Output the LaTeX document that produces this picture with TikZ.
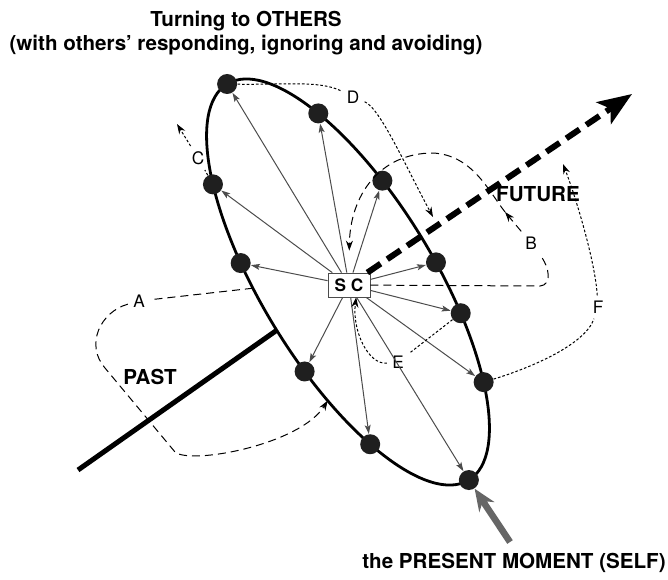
\documentclass[tikz,border=0pt]{standalone}
\usepackage{fontspec}
\setmainfont{TeX Gyre Heros}
\usetikzlibrary{arrows.meta}
\tikzset{
  dotnode/.style={circle, fill=black!88, minimum size=10pt, inner sep=0pt},
  scbox/.style={draw=black!70, fill=white, minimum width=21pt, minimum height=12pt, inner sep=0pt, font=\fontsize{8.6}{9}\selectfont\bfseries},
  spoke/.style={-{Stealth[length=4.5pt,width=3pt,inset=1pt]}, black!70, line width=0.5pt},
  futurearrow/.style={-{Stealth[length=17pt,width=13pt,inset=4pt]}, line width=3pt, dash pattern=on 8pt off 4pt},
  pastline/.style={line width=2.5pt},
  selfarrow/.style={-{Stealth[length=11pt,width=9pt]}, line width=3.3pt, black!60},
  loopline/.style={dash pattern=on 4pt off 2.5pt, line width=0.5pt},
  traceline/.style={dash pattern=on 1.3pt off 1pt, line width=0.5pt},
  arrowend/.style={-{Stealth[length=5pt,width=3.5pt]}},
  letter/.style={font=\fontsize{8.6}{9}\selectfont, inner sep=2.5pt},
  bigtext/.style={font=\fontsize{10.3}{11.8}\selectfont\bfseries}
}

\begin{document}
\begin{tikzpicture}[x=0.5pt, y=-0.5pt]
  \useasboundingbox (0,0) rectangle (668,579);
  % the circle of others, tilted
  \begin{scope}[shift={(348,282)}, rotate=-58.6]
    \draw[line width=1.4pt] (0,0) ellipse (232 and 86);
    \node[dotnode] (o1) at (180:232 and 86) {};
    \node[dotnode] (o2) at (-133.4:232 and 86) {};
    \node[dotnode] (o3) at (-107.2:232 and 86) {};
    \node[dotnode] (o4) at (-82.8:232 and 86) {};
    \node[dotnode] (o5) at (-68.4:232 and 86) {};
    \node[dotnode] (o6) at (-47.7:232 and 86) {};
    \node[dotnode] (o7) at (0:232 and 86) {};
    \node[dotnode] (o8) at (49.7:232 and 86) {};
    \node[dotnode] (o9) at (76.6:232 and 86) {};
    \node[dotnode] (o10) at (108.1:232 and 86) {};
    \node[dotnode] (o11) at (131.5:232 and 86) {};
    \coordinate (pastRoot) at (89:232 and 86);
    \coordinate (aStart) at (101:232 and 86);
    \coordinate (aEnd) at (67:232 and 86);
  \end{scope}
  \coordinate (pastEnd) at (78,470);
  \draw[pastline] (pastEnd) -- (pastRoot);
  \node[scbox] (sc) at (349,285) {S C};

  \node[bigtext, align=center, anchor=north, inner sep=0pt] (title) at (246,11) {Turning to OTHERS\\(with others’ responding, ignoring and avoiding)};
  \node[bigtext] (future) at (538,194) {FUTURE};
  \node[bigtext] (past) at (150,377) {PAST};
  \node[bigtext] (present) at (514,563) {the PRESENT MOMENT (SELF)};

  \node[letter] (lA) at (139,301) {A};
  \node[letter] (lB) at (531,243) {B};
  \node[letter] (lC) at (198,158) {C};
  \node[letter] (lD) at (353,97) {D};
  \node[letter] (lE) at (398,362) {E};
  \node[letter] (lF) at (598,307) {F};

  \draw[spoke] (sc) -- (o1);
  \draw[spoke] (sc) -- (o2);
  \draw[spoke] (sc) -- (o3);
  \draw[spoke] (sc) -- (o4);
  \draw[spoke] (sc) -- (o5);
  \draw[spoke] (sc) -- (o6);
  \draw[spoke] (sc) -- (o7);
  \draw[spoke] (sc) -- (o8);
  \draw[spoke] (sc) -- (o9);
  \draw[spoke] (sc) -- (o10);
  \draw[spoke] (sc) -- (o11);

  % loops through past and future
  \draw[loopline, arrowend] (aStart) -- (lA) .. controls (100,312) and (85,345) .. (105,368) -- (175,452) .. controls (190,465) and (300,445) .. (aEnd);
  \coordinate (bMid) at (505,212);
  \draw[loopline, arrowend] (sc) -- (540,286) .. controls (552,285) and (550,268) .. (lB) -- (bMid);
  \draw[loopline, arrowend, shorten >=11pt] (bMid) .. controls (488,190) and (472,155) .. (433,153) .. controls (380,153) and (350,195) .. (sc.north);

  % traces
  \coordinate (cEnd) at (177,124);
  \coordinate (dEnd) at (433,217);
  \coordinate (fEnd) at (563,164);
  \draw[traceline, arrowend] (o11) -- (lC) -- (cEnd);
  \draw[traceline, arrowend] (o1) .. controls (280,85) and (320,80) .. (lD) .. controls (380,108) and (405,165) .. (dEnd);
  \draw[traceline, arrowend] (o5) -- (lE) .. controls (368,365) and (352,330) .. (sc.300);
  \draw[traceline, arrowend] (o6) .. controls (530,368) and (585,345) .. (lF) .. controls (595,260) and (575,195) .. (fEnd);

  \coordinate (futureTip) at (632,94);
  \draw[futurearrow] (sc) -- (futureTip);
  \coordinate (selfTail) at (510,542);
  \draw[selfarrow] (selfTail) -- (o7);
\end{tikzpicture}
\end{document}
